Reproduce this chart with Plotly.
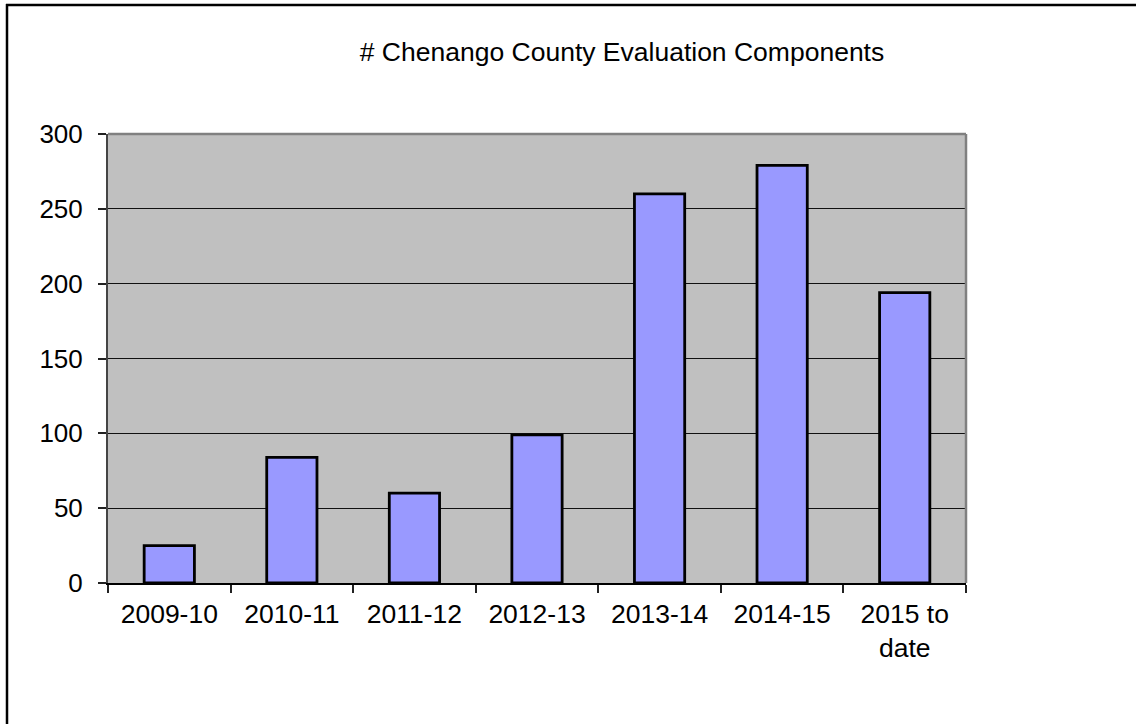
import plotly.graph_objects as go

# Evaluation components counted per school year
years = ["2009-10", "2010-11", "2011-12", "2012-13", "2013-14", "2014-15", "2015 to<br>date"]
components = [25, 84, 60, 99, 260, 279, 194]
y_ticks = [0, 50, 100, 150, 200, 250, 300]

W, H = 1136, 724
PL, PR, PT, PB = 108, 966, 134, 583  # plot area edges in pixels

def px_x(p):
    return (p - PL) / (PR - PL)

def px_y(p):
    return (PB - p) / (PB - PT)

FONT = "Liberation Sans, Arial, sans-serif"

fig = go.Figure(
    go.Bar(
        x=years,
        y=components,
        marker=dict(color="#9999FF", line=dict(color="#000000", width=2.8)),
        width=0.41,
    )
)

fig.update_layout(
    width=W,
    height=H,
    margin=dict(l=PL, r=W - PR, t=PT, b=H - PB),
    paper_bgcolor="#FFFFFF",
    plot_bgcolor="#C0C0C0",
    showlegend=False,
    font=dict(family=FONT, size=26, color="#000000"),
    title=dict(
        text="# Chenango County Evaluation Components",
        x=622 / W,
        xanchor="center",
        y=1 - 52 / H,
        yanchor="middle",
        font=dict(family=FONT, size=26.5, color="#000000"),
    ),
    xaxis=dict(
        type="category",
        showgrid=False,
        showline=True,
        linecolor="#000000",
        linewidth=2,
        ticks="outside",
        tickson="boundaries",
        ticklen=8,
        tickwidth=1.5,
        tickcolor="#222222",
        ticklabelstandoff=6,
        tickfont=dict(family=FONT, size=26.5, color="#000000"),
        fixedrange=True,
    ),
    yaxis=dict(
        range=[0, 300],
        tickvals=y_ticks,
        showgrid=True,
        gridcolor="#111111",
        gridwidth=1.4,
        zeroline=False,
        showline=True,
        linecolor="#444444",
        linewidth=2,
        ticks="outside",
        ticklen=8,
        tickwidth=1.5,
        tickcolor="#222222",
        ticklabelstandoff=10,
        tickfont=dict(family=FONT, size=26, color="#000000"),
        fixedrange=True,
    ),
    shapes=[
        # gray frame on the top and right of the plot area
        dict(type="line", xref="paper", yref="paper", x0=0, x1=1, y0=1, y1=1,
             line=dict(color="#808080", width=2.5), layer="above"),
        dict(type="line", xref="paper", yref="paper", x0=1, x1=1, y0=0, y1=1,
             line=dict(color="#808080", width=2.5), layer="above"),
        # outer chart border (top and left edges visible)
        dict(type="line", xref="paper", yref="paper",
             x0=px_x(6), x1=px_x(W + 20), y0=px_y(5), y1=px_y(5),
             line=dict(color="#000000", width=2.5)),
        dict(type="line", xref="paper", yref="paper",
             x0=px_x(7), x1=px_x(7), y0=px_y(4), y1=px_y(H + 20),
             line=dict(color="#000000", width=2.5)),
    ],
)

fig.write_html("out.html")
